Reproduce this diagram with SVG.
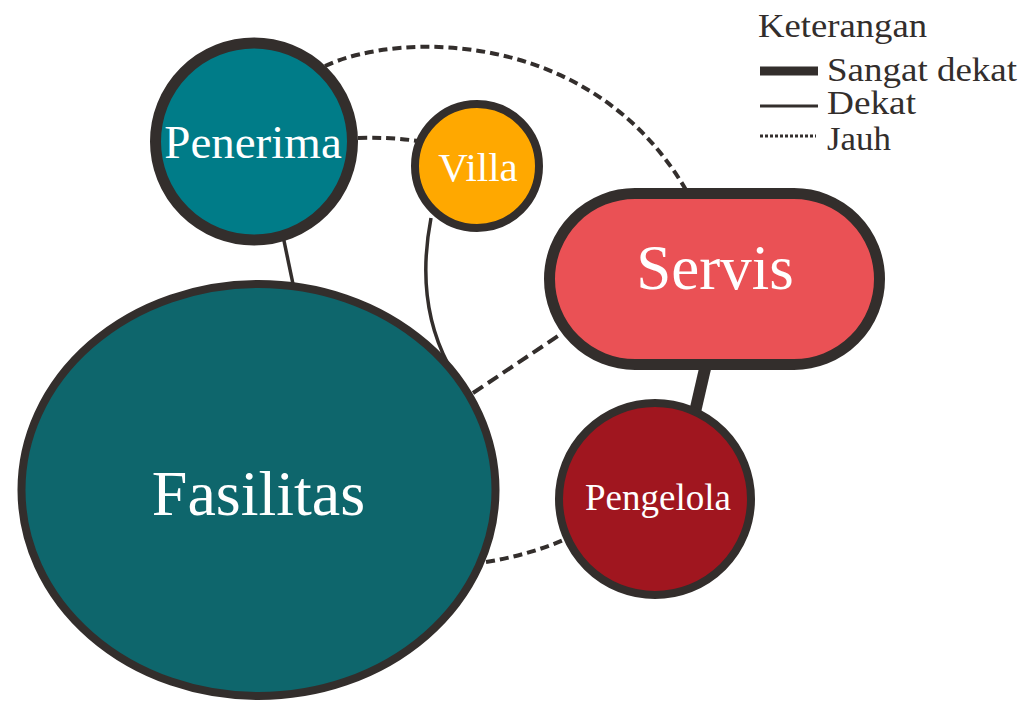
<svg xmlns="http://www.w3.org/2000/svg" width="1024" height="703" viewBox="0 0 1024 703">
<style>
.node{stroke:#332e2c}
.lbl{font-family:"Liberation Serif","Times New Roman",serif;fill:#ffffff;text-anchor:middle}
.leg{font-family:"Liberation Serif","Times New Roman",serif;fill:#332e2c;font-size:33px}
.c{fill:none;stroke:#332e2c}
.far{stroke-width:4;stroke-dasharray:9 5}
.near{stroke-width:3.5}
.vnear{stroke-width:12}
</style>
<rect width="1024" height="703" fill="#ffffff"/>
<g id="connectors">
<path class="c far" d="M325 66 C400 31 592 29 686 190"/>
<path class="c far" d="M358 138 Q390 137 418 141"/>
<path class="c near" d="M283 236 L293 284"/>
<path class="c near" d="M431 218 C421 270 425 320 448 364"/>
<path class="c far" style="stroke-dasharray:12 6" d="M473 393 L564 332"/>
<path class="c far" d="M486 562 Q530 555 568 538"/>
<path class="c vnear" d="M707 360 L695 412"/>
</g>
<g id="penerima">
<circle class="node" cx="254" cy="141.5" r="98.5" fill="#007c88" stroke-width="11"/>
<text class="lbl" x="253" y="158" font-size="47">Penerima</text>
</g>
<g id="villa">
<circle class="node" cx="477" cy="166" r="62" fill="#ffa800" stroke-width="8"/>
<text class="lbl" x="478" y="181" font-size="41">Villa</text>
</g>
<g id="servis">
<rect class="node" x="549.5" y="193.5" width="330" height="171" rx="85.5" ry="85.5" fill="#ea5155" stroke-width="11"/>
<text class="lbl" x="715" y="289" font-size="63">Servis</text>
</g>
<g id="fasilitas">
<ellipse class="node" cx="258.5" cy="490" rx="237" ry="206" fill="#0e666c" stroke-width="8"/>
<text class="lbl" x="258.5" y="515" font-size="64">Fasilitas</text>
</g>
<g id="pengelola">
<circle class="node" cx="655" cy="499" r="96" fill="#a0161f" stroke-width="8"/>
<text class="lbl" x="658" y="510" font-size="37">Pengelola</text>
</g>
<g id="legend">
<text class="leg" x="758" y="37" textLength="169" lengthAdjust="spacingAndGlyphs">Keterangan</text>
<line x1="760" y1="71" x2="818" y2="71" stroke="#332e2c" stroke-width="9"/>
<text class="leg" x="827" y="81" textLength="190" lengthAdjust="spacingAndGlyphs">Sangat dekat</text>
<line x1="760" y1="106" x2="818" y2="106" stroke="#332e2c" stroke-width="3"/>
<text class="leg" x="827" y="114" textLength="89" lengthAdjust="spacingAndGlyphs">Dekat</text>
<line x1="760" y1="136" x2="816" y2="136" stroke="#332e2c" stroke-width="3" stroke-dasharray="3 2"/>
<text class="leg" x="827" y="150" textLength="64" lengthAdjust="spacingAndGlyphs">Jauh</text>
</g>
</svg>
